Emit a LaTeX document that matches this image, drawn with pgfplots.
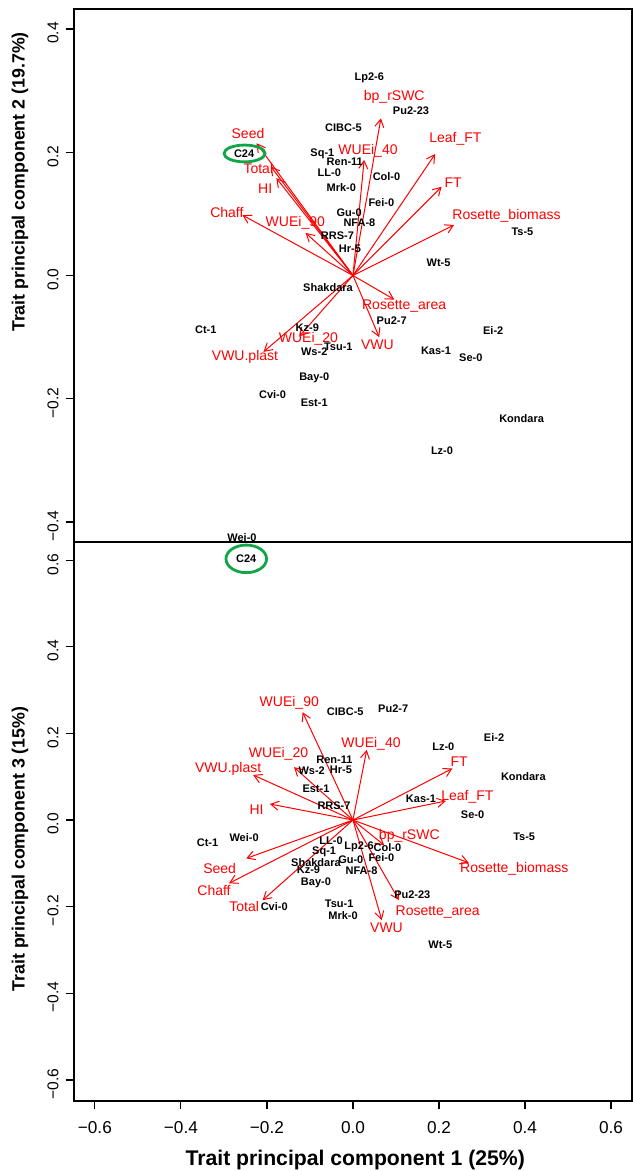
\documentclass[border=0pt]{standalone}
\usepackage{fontspec}
\setmainfont{Liberation Sans}
\usepackage{pgfplots}
\pgfplotsset{compat=1.18}
\usepackage{pgfplotstable}
\usetikzlibrary{arrows.meta}
\definecolor{ellgreen}{RGB}{16,166,72}
\newcommand{\redfont}{\fontsize{7}{8}\selectfont}
\newcommand{\blkfont}{\fontsize{5.5}{6}\selectfont\bfseries}

% ---------- top panel: PC1 vs PC2 ----------
\pgfplotstableread{
name x y
Lp2-6 0.038 0.320
Pu2-23 0.135 0.268
CIBC-5 -0.022 0.239
C24 -0.253 0.197
Sq-1 -0.071 0.198
Ren-11 -0.019 0.184
LL-0 -0.055 0.166
Col-0 0.078 0.160
Mrk-0 -0.027 0.142
Fei-0 0.066 0.119
Gu-0 -0.009 0.102
NFA-8 0.015 0.086
Ts-5 0.394 0.071
RRS-7 -0.036 0.064
Hr-5 -0.007 0.043
Wt-5 0.199 0.020
Shakdara -0.058 -0.020
Pu2-7 0.090 -0.074
Kz-9 -0.106 -0.084
Ct-1 -0.342 -0.088
Ei-2 0.326 -0.090
Tsu-1 -0.034 -0.115
Ws-2 -0.090 -0.123
Kas-1 0.193 -0.122
Se-0 0.274 -0.133
Bay-0 -0.090 -0.166
Cvi-0 -0.187 -0.194
Est-1 -0.090 -0.206
Kondara 0.392 -0.233
Lz-0 0.207 -0.284
Wei-0 -0.258 -0.426
}\topgeno

\pgfplotstableread{
name x y u v lx ly
bp\_rSWC 0 0 0.065 0.255 0.096 0.290
Seed 0 0 -0.224 0.2146 -0.244 0.231
Total 0 0 -0.191 0.177 -0.220 0.174
HI 0 0 -0.178 0.158 -0.204 0.1415
Chaff 0 0 -0.257 0.098 -0.293 0.103
WUEi\_90 0 0 -0.110 0.069 -0.134 0.086
WUEi\_40 0 0 0.026 0.1875 0.035 0.202
Leaf\_FT 0 0 0.191 0.197 0.238 0.222
FT 0 0 0.206 0.144 0.233 0.150
Rosette\_biomass 0 0 0.235 0.082 0.357 0.097
Rosette\_area 0 0 0.096 -0.039 0.119 -0.049
VWU 0 0 0.061 -0.100 0.057 -0.112
WUEi\_20 0 0 -0.125 -0.099 -0.1035 -0.1025
VWU.plast 0 0 -0.208 -0.124 -0.251 -0.132
}\toparrow

% ---------- bottom panel: PC1 vs PC3 ----------
\pgfplotstableread{
name x y
CIBC-5 -0.018 0.249
Pu2-7 0.0935 0.258
Ei-2 0.328 0.191
Lz-0 0.210 0.169
Ren-11 -0.043 0.140
Ws-2 -0.096 0.114
Hr-5 -0.028 0.1155
Kondara 0.396 0.100
Est-1 -0.086 0.073
Kas-1 0.158 0.050
RRS-7 -0.044 0.032
Se-0 0.278 0.013
Ct-1 -0.338 -0.0515
Wei-0 -0.253 -0.041
Ts-5 0.398 -0.0385
LL-0 -0.051 -0.0485
Lp2-6 0.0144 -0.0616
Col-0 0.080 -0.063
Sq-1 -0.067 -0.073
Shakdara -0.086 -0.098
Gu-0 -0.005 -0.091
Fei-0 0.066 -0.086
Kz-9 -0.1035 -0.114
NFA-8 0.020 -0.116
Bay-0 -0.086 -0.146
Pu2-23 0.138 -0.173
Cvi-0 -0.183 -0.199
Tsu-1 -0.032 -0.194
Mrk-0 -0.023 -0.221
Wt-5 0.203 -0.289
C24 -0.248 0.603
}\botgeno

\pgfplotstableread{
name x y u v lx ly
WUEi\_90 0 0 -0.117 0.249 -0.148 0.271
WUEi\_40 0 0 0.032 0.162 0.042 0.177
WUEi\_20 0 0 -0.137 0.122 -0.173 0.152
VWU.plast 0 0 -0.232 0.104 -0.290 0.119
FT 0 0 0.231 0.119 0.247 0.135
Leaf\_FT 0 0 0.216 0.044 0.266 0.054
HI 0 0 -0.193 0.037 -0.224 0.023
bp\_rSWC 0 0 0.0725 -0.058 0.131 -0.037
Seed 0 0 -0.248 -0.0885 -0.310 -0.112
Chaff 0 0 -0.288 -0.146 -0.323 -0.163
Total 0 0 -0.210 -0.185 -0.253 -0.200
Rosette\_biomass 0 0 0.269 -0.0986 0.375 -0.112
Rosette\_area 0 0 0.107 -0.185 0.197 -0.212
VWU 0 0 0.067 -0.231 0.078 -0.249
}\botarrow

\pgfplotsset{
  pcastyle/.style={
    scale only axis, width=278.75pt,
    xmin=-0.648, xmax=0.648,
    axis line style={line width=0.9pt},
    tick align=outside, major tick length=4.3pt,
    major tick style={line width=0.6pt, black},
    ytick pos=left,
    yticklabel style={rotate=90, anchor=south, xshift=-2pt, font=\fontsize{7.8}{9}\selectfont},
    xticklabel style={yshift=-2.5pt, font=\fontsize{8.6}{10}\selectfont},
    ylabel style={font=\fontsize{8.9}{10}\selectfont\bfseries, anchor=center},
    xlabel style={font=\fontsize{10.6}{12}\selectfont\bfseries, anchor=center},
  },
  arrowplot/.style={red, line width=0.5pt, -{Straight Barb[angle=60:4.5pt]},
    quiver={u=\thisrow{u}, v=\thisrow{v}}},
  redlab/.style={draw=none, mark=none, nodes near coords, point meta=explicit symbolic,
    every node near coord/.append style={anchor=center, inner sep=0pt, text=red, font=\redfont}},
  blklab/.style={draw=none, mark=none, nodes near coords, point meta=explicit symbolic,
    every node near coord/.append style={anchor=center, inner sep=0pt, text=black, font=\blkfont}},
}

\begin{document}
\begin{tikzpicture}
\path[use as bounding box] (0,0) rectangle (316pt,585.5pt);

% bottom panel
\begin{axis}[pcastyle, at={(37.1pt,35.15pt)}, anchor=south west, height=280.65pt,
  ymin=-0.648, ymax=0.648,
  xtick={-0.6,-0.4,-0.2,0,0.2,0.4,0.6},
  xticklabels={−0.6,−0.4,−0.2,0.0,0.2,0.4,0.6},
  ytick={-0.6,-0.4,-0.2,0,0.2,0.4,0.6},
  yticklabels={−0.6,−0.4,−0.2,0.0,0.2,0.4,0.6},
  xtick pos=bottom,
  xlabel={Trait principal component 1 (25\%)},
  ylabel={Trait principal component 3 (15\%)},
  xlabel style={at={(axis description cs:0.504,-0.1056)}},
  ylabel style={at={(axis description cs:-0.0972,0.4484)}},
]
\addplot[arrowplot] table[x=x, y=y] {\botarrow};
\addplot[redlab] table[x=lx, y=ly, meta=name] {\botarrow};
\addplot[blklab] table[x=x, y=y, meta=name] {\botgeno};
\addplot[only marks, mark=o, mark size=6.9pt,
  mark options={xscale=1.47, draw=ellgreen, line width=1.4pt}] coordinates {(-0.248,0.603)};
\end{axis}

% top panel
\begin{axis}[pcastyle, at={(37.1pt,314.65pt)}, anchor=south west, height=266.2pt,
  ymin=-0.432, ymax=0.432,
  axis background/.style={fill=white},
  xtick=\empty,
  ytick={-0.4,-0.2,0,0.2,0.4},
  yticklabels={−0.4,−0.2,0.0,0.2,0.4},
  ylabel={Trait principal component 2 (19.7\%)},
  ylabel style={at={(axis description cs:-0.0972,0.6756)}},
]
\addplot[arrowplot] table[x=x, y=y] {\toparrow};
\addplot[redlab] table[x=lx, y=ly, meta=name] {\toparrow};
\addplot[blklab] table[x=x, y=y, meta=name] {\topgeno};
\addplot[only marks, mark=o, mark size=4.2pt,
  mark options={xscale=2.44, draw=ellgreen, line width=1.4pt}] coordinates {(-0.252,0.198)};
\end{axis}
\end{tikzpicture}
\end{document}
